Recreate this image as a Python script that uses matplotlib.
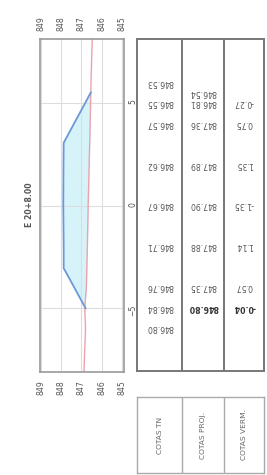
import numpy as np
import matplotlib
matplotlib.use("Agg")
import matplotlib.pyplot as plt

# cross-section data (distance from axis in m, elevation in m)
tn_rows = [6, 5, 4, 2, 0, -2, -4, -5, -6]
tn_vals = [846.53, 846.55, 846.57, 846.62, 846.67, 846.71, 846.76, 846.84, 846.80]
proj_rows = [5.5, 5, 4, 2, 0, -2, -4, -5]
proj_vals = [846.54, 846.81, 847.36, 847.89, 847.90, 847.88, 847.35, 846.80]
verm_rows = [5, 4, 2, 0, -2, -4, -5]
verm_vals = [-0.27, 0.75, 1.35, -1.35, 1.14, 0.57, -0.04]

# terrain line runs past the table points, project line has the road edges
tn_line_dist = [8.1] + tn_rows + [-8.1]
tn_line_elev = [846.47] + tn_vals + [846.88]
proj_line_dist = [5.5, 5.0, 4.0, 3.05, 2.0, 0.0, -2.0, -3.05, -4.0, -5.0]
proj_line_elev = [846.54, 846.81, 847.36, 847.88, 847.89, 847.90, 847.88, 847.88, 847.35, 846.80]

elev_ticks = [845, 846, 847, 848, 849]
dist_ticks = [-5, 0, 5]
row_labels = ["COTAS TN", "COTAS PROJ.", "COTAS VERM."]
title = "E 20+8.00"

W, H = 267, 475
fig = plt.figure(figsize=(W / 100, H / 100), dpi=100)

def box(x0, y0, x1, y1):
    return [x0 / W, 1 - y1 / H, (x1 - x0) / W, (y1 - y0) / H]

txt = "#555555"
ylim = (-8.1, 8.1)

# --- profile (drawn rotated: elevation left->right decreasing, distance vertical)
ax = fig.add_axes(box(40, 39, 124, 372))
ax.set_xlim(849.05, 844.9)
ax.set_ylim(*ylim)
ax.set_xticks(elev_ticks)
ax.set_yticks(dist_ticks)
ax.grid(True, color="#dddddd", lw=0.8)
ax.tick_params(axis="x", length=0, pad=6, labelsize=5.6, labelcolor=txt,
               top=True, labeltop=True, labelrotation=90)
ax.tick_params(axis="y", length=0, pad=3, labelsize=5.6, labelcolor=txt,
               left=False, labelleft=False, right=True, labelright=True,
               labelrotation=90)
for s in ax.spines.values():
    s.set_color("#999999")
    s.set_linewidth(1.2)

tn_at_proj = np.interp(proj_line_dist[::-1], tn_line_dist[::-1], tn_line_elev[::-1])[::-1]
ax.fill_betweenx(proj_line_dist, proj_line_elev, tn_at_proj, color="#d6f3fa", lw=0)
ax.plot(tn_line_elev, tn_line_dist, color="#eaa3ad", lw=1.0)
ax.plot(proj_line_elev, proj_line_dist, color="#6b98d8", lw=1.3)

fig.text(30 / W, 1 - 205 / H, title, rotation=90, ha="center", va="center",
         fontsize=5.6, fontweight="bold", color="#555555")

# --- data table
col_edges = [137, 182, 224, 264]
tx = fig.add_axes(box(col_edges[0], 39, col_edges[-1], 371))
tx.set_xlim(col_edges[0], col_edges[-1])
tx.set_ylim(*ylim)
tx.set_xticks([])
tx.set_yticks([])
for s in tx.spines.values():
    s.set_color("#777777")
    s.set_linewidth(1.4)
for e in col_edges[1:-1]:
    tx.axvline(e, color="#777777", lw=1.4)

cols = [(tn_rows, ["%.2f" % v for v in tn_vals]),
        (proj_rows, ["%.2f" % v for v in proj_vals]),
        (verm_rows, ["%.2f" % v for v in verm_vals])]
for i, (rows, labels) in enumerate(cols):
    xc = (col_edges[i] + col_edges[i + 1]) / 2
    for r, lab in zip(rows, labels):
        bold = (i > 0 and r == -5)
        tx.text(xc, r, lab, rotation=180, ha="center", va="center",
                fontsize=5.6, color="#333333" if bold else "#555555",
                fontweight="bold" if bold else "normal")

# --- row labels
lx = fig.add_axes(box(col_edges[0], 397, col_edges[-1], 473))
lx.set_xlim(col_edges[0], col_edges[-1])
lx.set_ylim(0, 1)
lx.set_xticks([])
lx.set_yticks([])
for s in lx.spines.values():
    s.set_color("#aaaaaa")
    s.set_linewidth(1.0)
for e in col_edges[1:-1]:
    lx.axvline(e, color="#aaaaaa", lw=1.0)
for i, lab in enumerate(row_labels):
    xc = (col_edges[i] + col_edges[i + 1]) / 2
    lx.text(xc, 0.5, lab, rotation=90, ha="center", va="center",
            fontsize=5.4, color="#666666")

fig.savefig("out.png", dpi=100, facecolor="white")
